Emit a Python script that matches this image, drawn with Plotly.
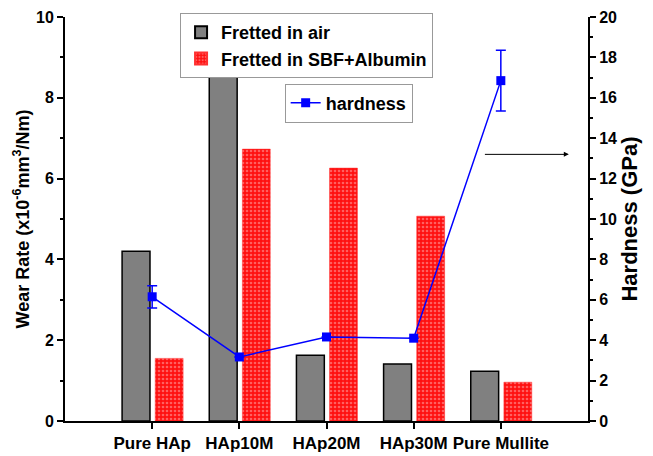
import plotly.graph_objects as go

categories = ["Pure HAp", "HAp10M", "HAp20M", "HAp30M", "Pure Mullite"]
wear_air = [4.2, 8.54, 1.63, 1.41, 1.23]
wear_sbf = [1.55, 6.73, 6.26, 5.07, 0.96]
hardness = [6.15, 3.17, 4.16, 4.1, 16.85]
hardness_err = [0.55, 0, 0, 0, 1.5]

xpos = list(range(1, len(categories) + 1))
FONT = "Liberation Sans"

fig = go.Figure()
fig.add_trace(go.Bar(
    x=xpos, y=wear_air, name="<b>Fretted in air</b>",
    width=0.32, offset=-0.345,
    marker=dict(color="#808080", line=dict(color="black", width=1.5)),
    legend="legend",
))
fig.add_trace(go.Bar(
    x=xpos, y=wear_sbf, name="<b>Fretted in SBF+Albumin</b>",
    width=0.32, offset=0.035,
    marker=dict(color="#ff1010", line=dict(color="#ff3030", width=0.5),
                pattern=dict(shape=".", fgcolor="#ffb0b0", bgcolor="#ff1010",
                             size=4, solidity=0.35, fillmode="overlay")),
    legend="legend",
))
fig.add_trace(go.Scatter(
    x=xpos, y=hardness, name="<b>hardness</b>", yaxis="y2",
    mode="lines+markers",
    line=dict(color="#0000ff", width=1.5),
    marker=dict(symbol="square", size=9, color="#0000ff"),
    error_y=dict(type="data", array=hardness_err, color="#0000ff",
                 thickness=1.5, width=5),
    legend="legend2",
))

fig.add_annotation(
    x=5.78, y=13.2, ax=4.8, ay=13.2, xref="x", yref="y2",
    axref="x", ayref="y2", showarrow=True, arrowhead=2, arrowsize=1,
    arrowwidth=1, arrowcolor="black", text="",
)

fig.update_layout(
    width=653, height=456,
    margin=dict(l=65, r=65, t=17, b=35, autoexpand=False),
    plot_bgcolor="white", paper_bgcolor="white",
    font=dict(family=FONT, color="black", size=16),
    barmode="overlay",
    showlegend=True,
    xaxis=dict(
        range=[0, 6], tickvals=xpos,
        ticktext=["<b>%s</b>" % c for c in categories],
        showline=True, linecolor="black", linewidth=2,
        ticks="outside", ticklen=6, tickwidth=1.5, tickcolor="black",
        showgrid=False, zeroline=False, automargin=False,
        tickfont=dict(size=17, family=FONT),
    ),
    yaxis=dict(
        range=[0, 10], dtick=2, tickformat="d",
        showline=True, linecolor="black", linewidth=2,
        ticks="outside", ticklen=6, tickwidth=1.5, tickcolor="black",
        minor=dict(dtick=1, ticks="outside", ticklen=3, tickwidth=1.5, tickcolor="black"),
        showgrid=False, zeroline=False, automargin=False,
        tickprefix="<b>", ticksuffix="</b>",
        tickfont=dict(size=16, family=FONT),
        title=dict(text="<b>Wear Rate (x10<sup>-6</sup>mm<sup>3</sup>/Nm)</b>",
                   font=dict(size=18, family=FONT), standoff=2),
    ),
    yaxis2=dict(
        range=[0, 20], dtick=2, overlaying="y", side="right",
        showline=True, linecolor="black", linewidth=2,
        ticks="outside", ticklen=6, tickwidth=1.5, tickcolor="black",
        minor=dict(dtick=1, ticks="outside", ticklen=3, tickwidth=1.5, tickcolor="black"),
        showgrid=False, zeroline=False, automargin=False,
        tickprefix="<b>", ticksuffix="</b>",
        tickfont=dict(size=16, family=FONT),
        title=dict(text="<b>Hardness (GPa)</b>", font=dict(size=22, family=FONT), standoff=4),
    ),
    legend=dict(
        x=0.22, y=1.01, xanchor="left", yanchor="top",
        bordercolor="#999999", borderwidth=1, bgcolor="white",
        font=dict(size=18, family=FONT), tracegroupgap=0,
        itemsizing="constant",
    ),
    legend2=dict(
        x=0.42, y=0.835, xanchor="left", yanchor="top",
        bordercolor="#999999", borderwidth=1, bgcolor="white",
        font=dict(size=18, family=FONT),
    ),
)

fig.write_html("out.html")
